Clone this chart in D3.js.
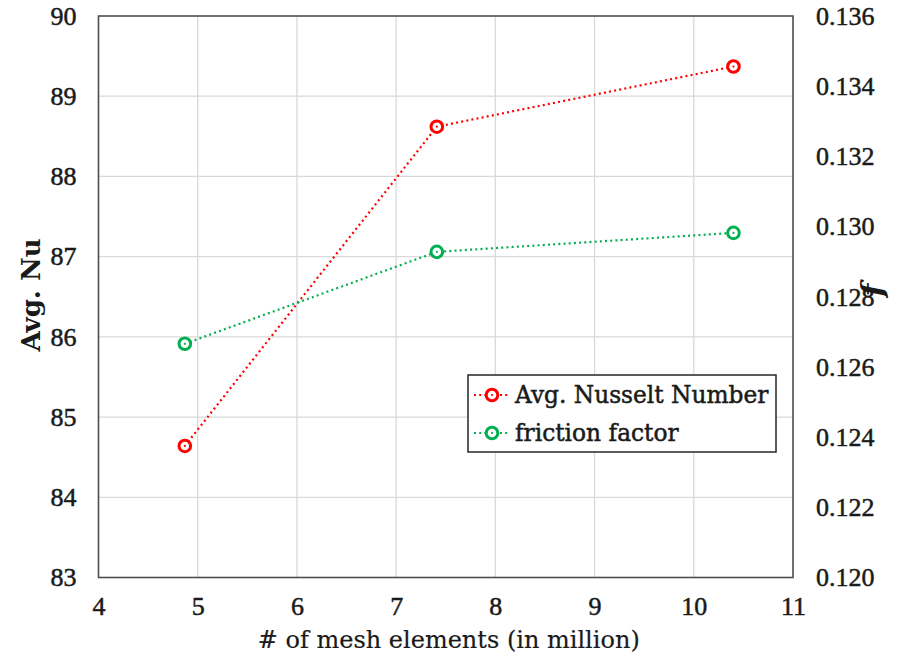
<!DOCTYPE html>
<html>
<head>
<meta charset="utf-8">
<script src="https://cdn.jsdelivr.net/npm/d3@7"></script>
<style>
  html, body { margin: 0; padding: 0; background: #fff; }
  svg text { font-family: "Liberation Serif", "DejaVu Serif", serif; fill: #1a1a1a; }
</style>
</head>
<body>
<svg id="chart" width="908" height="661"></svg>
<script>
// Mesh independence study: number of mesh elements vs Nu and friction factor
const meshMillions = [4.87, 7.41, 10.40];
const nusseltValues = [84.64, 88.62, 89.37];
const frictionValues = [0.12666, 0.12928, 0.12982];
const xTicks = [4, 5, 6, 7, 8, 9, 10, 11];
const leftTicks = [83, 84, 85, 86, 87, 88, 89, 90];
const rightTicks = [0.120, 0.122, 0.124, 0.126, 0.128, 0.130, 0.132, 0.134, 0.136];
const seriesNames = ["Avg. Nusselt Number", "friction factor"];
const seriesColors = ["#ff0000", "#00b050"];

const svg = d3.select("#chart");
const m = { left: 98.5, right: 793, top: 16, bottom: 577.5 };
const serif = "'Liberation Serif', serif";
const wideSerif = "'DejaVu Serif', serif";

const x = d3.scaleLinear().domain([4, 11]).range([m.left, m.right]);
const yL = d3.scaleLinear().domain([83, 90]).range([m.bottom, m.top]);
const yR = d3.scaleLinear().domain([0.120, 0.136]).range([m.bottom, m.top]);

// gridlines
const grid = svg.append("g");
grid.selectAll("line.v").data(xTicks.slice(1, -1)).join("line")
  .attr("x1", d => x(d)).attr("x2", d => x(d))
  .attr("y1", m.top).attr("y2", m.bottom)
  .attr("stroke", "#d9d9d9").attr("stroke-width", 1.3);
grid.selectAll("line.h").data(leftTicks.slice(1, -1)).join("line")
  .attr("y1", d => yL(d)).attr("y2", d => yL(d))
  .attr("x1", m.left).attr("x2", m.right)
  .attr("stroke", "#d9d9d9").attr("stroke-width", 1.3);

// plot frame
svg.append("rect")
  .attr("x", m.left).attr("y", m.top)
  .attr("width", m.right - m.left).attr("height", m.bottom - m.top)
  .attr("fill", "none").attr("stroke", "#4d4d4d").attr("stroke-width", 1.6);

// axes (labels only, frame drawn above)
const xAxis = svg.append("g").attr("transform", `translate(0,${m.bottom})`)
  .call(d3.axisBottom(x).tickValues(xTicks).tickFormat(d3.format("d")).tickSize(0).tickPadding(19));
const yAxisL = svg.append("g").attr("transform", `translate(${m.left},0)`)
  .call(d3.axisLeft(yL).tickValues(leftTicks).tickFormat(d3.format("d")).tickSize(0).tickPadding(22));
const yAxisR = svg.append("g").attr("transform", `translate(${m.right},0)`)
  .call(d3.axisRight(yR).tickValues(rightTicks).tickFormat(d3.format(".3f")).tickSize(0).tickPadding(23));
[xAxis, yAxisL, yAxisR].forEach(a => {
  a.attr("font-family", null).attr("font-size", null);
  a.select(".domain").remove();
  a.selectAll("text").style("font-size", "26px").style("font-family", serif)
    .attr("fill", "#1a1a1a").attr("stroke", "#1a1a1a").attr("stroke-width", 0.5);
});

// axis titles
svg.append("text").attr("x", (m.left + m.right) / 2 + 3).attr("y", 648)
  .attr("text-anchor", "middle").style("font-size", "24px").style("font-family", wideSerif)
  .attr("stroke", "#1a1a1a").attr("stroke-width", 0.2)
  .text("#  of  mesh elements (in million)");
svg.append("text").attr("transform", "translate(40,295) rotate(-90)")
  .attr("text-anchor", "middle").style("font-size", "26px").style("font-weight", "bold").style("font-family", wideSerif)
  .text("Avg. Nu");
svg.append("text").attr("transform", "translate(883,290) rotate(-90)")
  .attr("text-anchor", "middle").style("font-size", "30px").style("font-weight", "bold")
  .style("font-style", "italic").style("font-family", wideSerif).text("f");

// series
const series = [
  { name: seriesNames[0], color: seriesColors[0], pts: meshMillions.map((v, i) => [x(v), yL(nusseltValues[i])]) },
  { name: seriesNames[1], color: seriesColors[1], pts: meshMillions.map((v, i) => [x(v), yR(frictionValues[i])]) }
];
const line = d3.line();

function marker(g, cx, cy, color) {
  g.append("circle").attr("cx", cx).attr("cy", cy).attr("r", 5.8)
    .attr("fill", "#fff").attr("stroke", color).attr("stroke-width", 3);
  g.append("circle").attr("cx", cx).attr("cy", cy).attr("r", 1.1).attr("fill", color);
}

series.forEach(s => {
  const g = svg.append("g");
  g.append("path").attr("d", line(s.pts)).attr("fill", "none")
    .attr("stroke", s.color).attr("stroke-width", 2.2).attr("stroke-dasharray", "2,3.2");
  s.pts.forEach(p => marker(g, p[0], p[1], s.color));
});

// legend
const lg = svg.append("g");
lg.append("rect").attr("x", 468).attr("y", 375).attr("width", 308).attr("height", 77)
  .attr("fill", "#fff").attr("stroke", "#262626").attr("stroke-width", 1.5);
series.forEach((s, i) => {
  const yy = 395 + i * 38;
  lg.append("line").attr("x1", 474).attr("x2", 510).attr("y1", yy).attr("y2", yy)
    .attr("stroke", s.color).attr("stroke-width", 2.2).attr("stroke-dasharray", "2,3.2");
  marker(lg, 492, yy, s.color);
  lg.append("text").attr("x", 515).attr("y", yy + 8).style("font-size", "23.3px").style("font-family", wideSerif)
    .attr("stroke", "#1a1a1a").attr("stroke-width", 0.5).text(s.name);
});
</script>
</body>
</html>
